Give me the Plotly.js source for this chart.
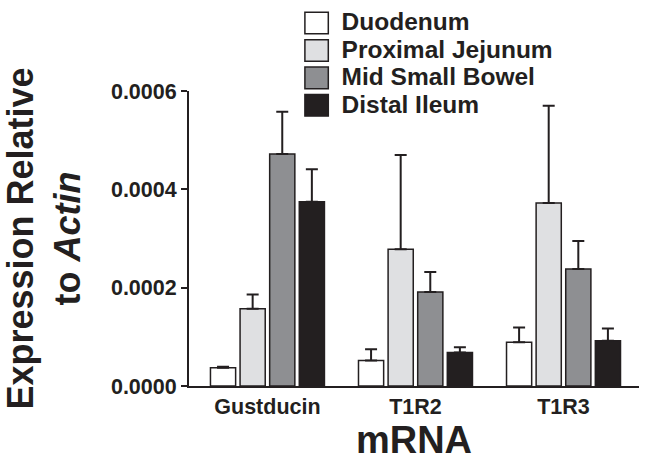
<!DOCTYPE html>
<html>
<head>
<meta charset="utf-8">
<script src="https://cdn.plot.ly/plotly-3.0.1.min.js"></script>
<style>
  html, body { margin: 0; padding: 0; background: #fff; }
  #chart { width: 649px; height: 465px; }
  .legend .legendtext { font-size: 24.5px !important; }
  .legend .scrollbox { clip-path: none !important; }
</style>
</head>
<body>
<div id="chart"></div>
<script>
const categories = ["Gustducin", "T1R2", "T1R3"];
const seriesNames = ["Duodenum", "Proximal Jejunum", "Mid Small Bowel", "Distal Ileum"];
const duodenum = [0.000037, 0.000052, 0.000089];
const proximalJejunum = [0.000157, 0.000278, 0.000372];
const midSmallBowel = [0.000472, 0.000191, 0.000238];
const distalIleum = [0.000375, 0.000068, 0.000092];
const duodenumErr = [0.000002, 0.000023, 0.000030];
const proximalJejunumErr = [0.000029, 0.000192, 0.000198];
const midSmallBowelErr = [0.000086, 0.000041, 0.000057];
const distalIleumErr = [0.000066, 0.000011, 0.000025];
const yTicks = [0, 0.0002, 0.0004, 0.0006];
const yTickLabels = ["0.0000", "0.0002", "0.0004", "0.0006"];

const values = [duodenum, proximalJejunum, midSmallBowel, distalIleum];
const errors = [duodenumErr, proximalJejunumErr, midSmallBowelErr, distalIleumErr];
const colors = ["#ffffff", "#dfe0e2", "#8e8f92", "#231f20"];
const ink = "#231f20";
const FONT = "Liberation Sans, Arial, Helvetica, sans-serif";

const traces = seriesNames.map((name, i) => ({
  type: "bar",
  name: name,
  x: categories,
  y: values[i],
  marker: { color: colors[i], line: { color: ink, width: 1.5 } },
  error_y: {
    type: "data", array: errors[i], arrayminus: errors[i].map(() => 0),
    symmetric: false, visible: true, color: ink, thickness: 2, width: 6
  }
}));

const layout = {
  width: 649, height: 465,
  margin: { l: 189, r: 10, t: 91, b: 79, autoexpand: false },
  paper_bgcolor: "#fff", plot_bgcolor: "#fff",
  font: { family: FONT, color: ink },
  barmode: "group", bargap: 0.2, bargroupgap: 0.15,
  showlegend: true,
  legend: {
    x: 0.228, y: 1.294, xanchor: "left", yanchor: "top",
    font: { family: FONT, size: 18.8, color: ink, weight: "bold" },
    itemwidth: 40, tracegroupgap: 0, bgcolor: "rgba(0,0,0,0)",
    traceorder: "normal"
  },
  xaxis: {
    range: [-0.53, 2.51], showline: true, linecolor: ink, linewidth: 2,
    ticks: "", showgrid: false, zeroline: false, fixedrange: true,
    tickfont: { family: FONT, size: 21.5, color: ink, weight: "bold" },
    title: { text: "mRNA", font: { family: FONT, size: 38, color: ink, weight: "bold" }, standoff: 8 }
  },
  yaxis: {
    range: [0, 0.0006], showline: true, linecolor: ink, linewidth: 2,
    ticks: "outside", ticklen: 6, tickwidth: 2, tickcolor: ink,
    tickvals: yTicks, ticktext: yTickLabels, showgrid: false, zeroline: false,
    fixedrange: true,
    tickfont: { family: FONT, size: 21.5, color: ink, weight: "bold" },
    title: { text: "Expression Relative<br>to <i>Actin</i>", font: { family: FONT, size: 36, color: ink, weight: "bold" }, standoff: 40 }
  }
};

Plotly.newPlot("chart", traces, layout, { staticPlot: true, displayModeBar: false }).then(gd => {
  gd.querySelectorAll(".legend .legendpoints path").forEach(p => {
    p.setAttribute("transform", "translate(25,0) scale(1.95,1.8)");
    p.setAttribute("vector-effect", "non-scaling-stroke");
  });
});
</script>
</body>
</html>
